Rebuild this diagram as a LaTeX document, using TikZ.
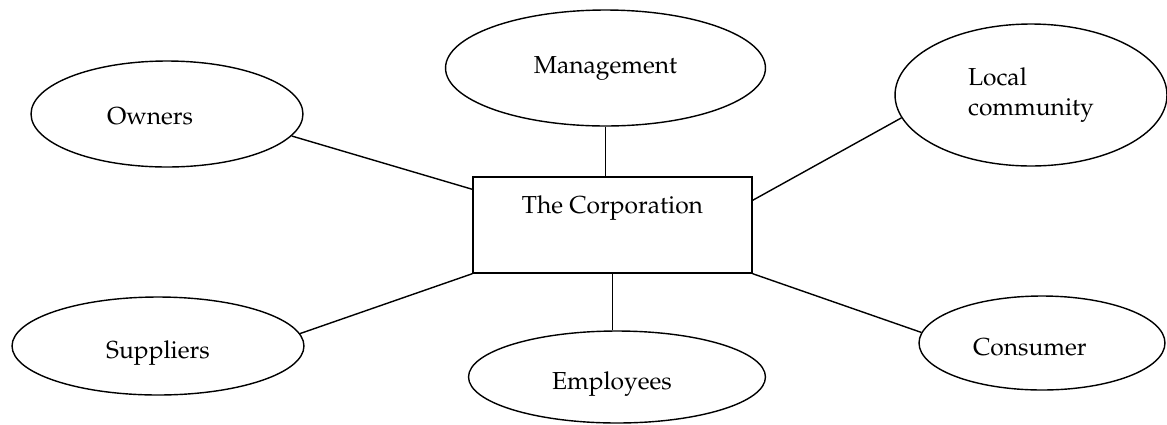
\documentclass[tikz,border=0pt]{standalone}
\usepackage[T1]{fontenc}
\usepackage{mathpazo}
\usepackage{tikz}
\usetikzlibrary{shapes.geometric,calc,positioning}
\tikzset{
	party/.style={draw, ellipse, inner sep=0pt, line width=0.8pt},
	lowtext/.style={text height=0.6cm, text depth=0.1cm},
	corpbox/.style={draw, rectangle, inner sep=0pt, line width=0.8pt},
	link/.style={line width=0.8pt},
	stem/.style={line width=0.6pt},
}

\begin{document}
\begin{tikzpicture}[x=0.02cm, y=-0.02cm, font=\fontsize{14}{17}\selectfont]
\useasboundingbox (0,0) rectangle (1167,424);
% the shapes
\node[corpbox, minimum width=5.58cm, minimum height=1.92cm, text depth=0.8cm] at (612.5,225) (corp) {The Corporation};
\node[party, minimum width=5.44cm, minimum height=2.12cm, text height=0.5cm, text depth=0.1cm,
	text width=2.4cm, align=left] at (167,114) (owners) {Owners};
\node[party, minimum width=6.4cm, minimum height=2.32cm] at (605.5,68) (mgmt) {Management};
\node[party, minimum width=5.44cm, minimum height=2.84cm, align=left] at (1031,95) (local) {Local\\community};
\node[party, lowtext, minimum width=5.84cm, minimum height=1.96cm] at (158,346) (suppliers) {Suppliers};
\node[party, lowtext, minimum width=5.94cm, minimum height=1.84cm,
	text width=2.6cm, align=left] at (617,377) (employees) {Employees};
\node[party, lowtext, minimum width=4.92cm, minimum height=1.88cm,
	text width=2.76cm, align=left] at (1042,343) (consumer) {Consumer};

% the links
\draw[link] (owners.-10) -- ([yshift=-0.26cm]corp.north west);
\draw[link] (suppliers.5) -- (corp.south west);
\draw[stem] (mgmt.south) -- (mgmt.south |- corp.north);
\draw[stem] (corp.south) -- (corp.south |- employees.north);
\draw[link] ([yshift=-0.48cm]corp.north east) -- (local.190);
\draw[link] (corp.south east) -- (consumer.175);
\end{tikzpicture}
\end{document}
